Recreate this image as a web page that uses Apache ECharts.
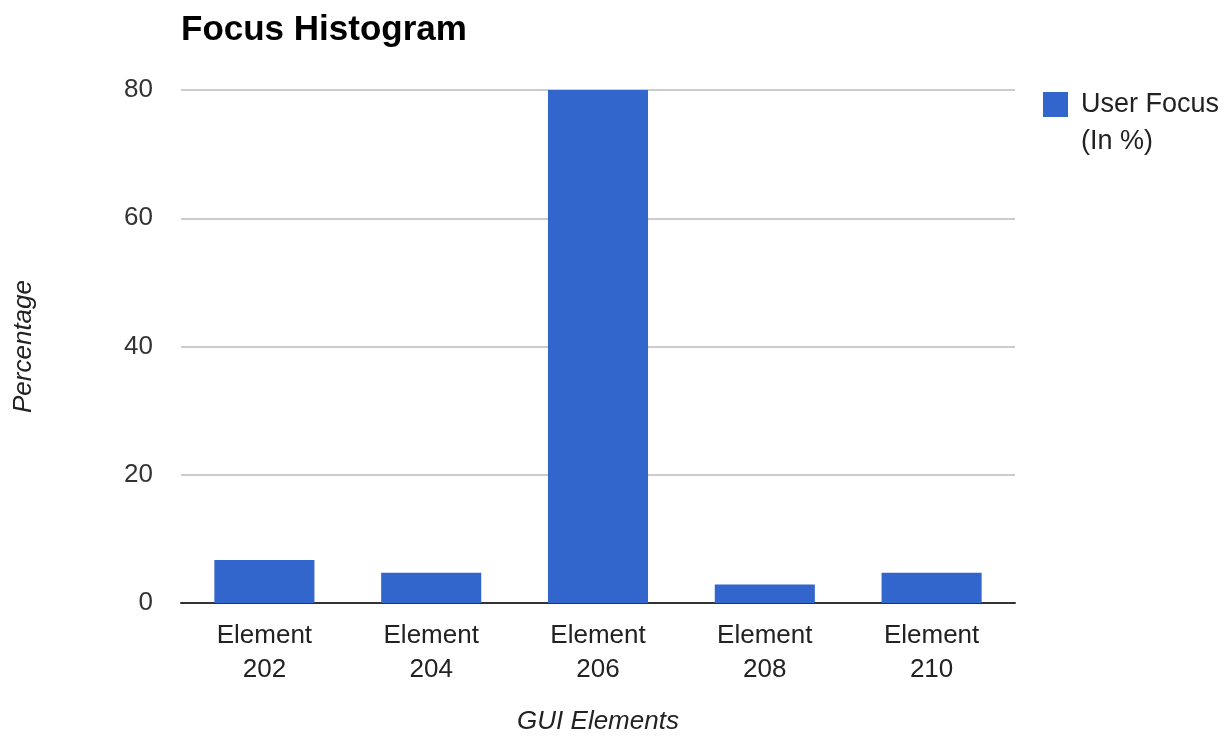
<!DOCTYPE html>
<html>
<head>
<meta charset="utf-8">
<script src="https://cdn.jsdelivr.net/npm/echarts@6/dist/echarts.min.js"></script>
<style>
  html, body { margin: 0; padding: 0; background: #fff; }
  #chart { width: 1231px; height: 740px; }
</style>
</head>
<body>
<div id="chart"></div>
<script>
// Share of user focus per GUI element
const categories = ['Element\n202', 'Element\n204', 'Element\n206', 'Element\n208', 'Element\n210'];
const focusValues = [6.7, 4.7, 80, 2.9, 4.7];
const yTicks = { min: 0, max: 80, interval: 20 };
const seriesName = 'User Focus\n(In %)';

const font = '"Liberation Sans", Arial, sans-serif';
const chart = echarts.init(document.getElementById('chart'));

chart.setOption({
  animation: false,
  textStyle: { fontFamily: font },
  title: {
    text: 'Focus Histogram',
    left: 176,
    top: 8,
    textStyle: { fontFamily: font, fontSize: 35, fontWeight: 'bold', color: '#000' }
  },
  legend: {
    data: [seriesName],
    orient: 'vertical',
    left: 1038,
    top: 44,
    itemWidth: 25,
    itemHeight: 25,
    icon: 'rect',
    // leading blank line keeps the swatch level with the first line of the label
    formatter: name => '\n' + name,
    textStyle: { fontFamily: font, fontSize: 27, color: '#222', lineHeight: 37, padding: [0, 0, 0, 8] }
  },
  grid: { left: 181, right: 216, top: 90, bottom: 136 },
  xAxis: {
    type: 'category',
    data: categories,
    name: 'GUI Elements',
    nameLocation: 'middle',
    nameGap: 106,
    nameTextStyle: { fontFamily: font, fontSize: 26, fontStyle: 'italic', color: '#222' },
    axisLine: { lineStyle: { color: '#333', width: 2 } },
    axisTick: { show: false },
    axisLabel: { fontFamily: font, fontSize: 26, color: '#222', lineHeight: 34, margin: 16 }
  },
  yAxis: {
    type: 'value',
    min: yTicks.min,
    max: yTicks.max,
    interval: yTicks.interval,
    name: 'Percentage',
    nameLocation: 'middle',
    nameGap: 144,
    nameTextStyle: { fontFamily: font, fontSize: 26, fontStyle: 'italic', color: '#222' },
    axisLine: { show: false },
    axisTick: { show: false },
    splitLine: { lineStyle: { color: '#cccccc', width: 2 } },
    axisLabel: { fontFamily: font, fontSize: 26, color: '#333', margin: 28 }
  },
  series: [{
    name: seriesName,
    type: 'bar',
    data: focusValues,
    barCategoryGap: '40%',
    itemStyle: { color: '#3366cc' }
  }]
});
</script>
</body>
</html>
